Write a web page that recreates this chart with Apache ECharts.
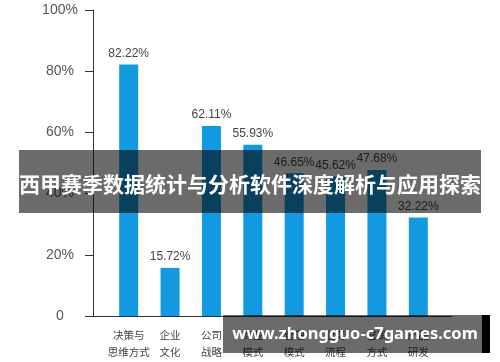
<!DOCTYPE html>
<html><head><meta charset="utf-8">
<script src="https://cdn.jsdelivr.net/npm/echarts@6/dist/echarts.min.js"></script>
<style>html,body{margin:0;padding:0;background:#fff}#c{width:500px;height:362px}</style>
</head><body><div id="c"></div>
<script>
var categories = ['决策与\n思维方式', '企业\n文化', '公司\n战略', '商业\n模式', '管理\n模式', '业务\n流程', '营销\n方式', '产品\n研发'];
var values = [82.22, 15.72, 62.11, 55.93, 46.65, 45.62, 47.68, 32.22];
var yTicks = [0, 20, 40, 60, 80, 100];
var bannerText = '西甲赛季数据统计与分析软件深度解析与应用探索';
var watermarkText = 'www.zhongguo-c7games.com';

var chart = echarts.init(document.getElementById('c'));
var font = 'Liberation Sans, Arial, sans-serif';
var cjk = '"Noto Sans CJK SC", sans-serif';
chart.setOption({
  animation: false,
  grid: [
    {left: 108, right: 61, top: 10, bottom: 46},
    {left: 93, right: 48, top: 10, bottom: 46}
  ],
  xAxis: [
    {type: 'category', gridIndex: 0, data: categories,
     axisLine: {show: false}, axisTick: {show: false},
     axisLabel: {interval: 0, fontFamily: cjk, fontSize: 10.5, color: '#444', lineHeight: 17, margin: 11}},
    {type: 'value', gridIndex: 1, min: 0, max: 1,
     axisLine: {show: true, lineStyle: {color: '#333', width: 1}},
     axisTick: {show: false}, axisLabel: {show: false}, splitLine: {show: false}}
  ],
  yAxis: [
    {type: 'value', gridIndex: 0, min: 0, max: 100, show: false},
    {type: 'value', gridIndex: 1, min: 0, max: 100, interval: 20,
     axisLine: {show: true, lineStyle: {color: '#333', width: 1}},
     axisTick: {show: true, length: 8, lineStyle: {color: '#333'}},
     splitLine: {show: false},
     axisLabel: {fontFamily: font, fontSize: 14, color: '#555', margin: 33, align: 'center',
       formatter: function (v) { return yTicks.indexOf(v) >= 0 ? (v === 0 ? '0' : v + '%') : ''; }}}
  ],
  series: [{
    type: 'bar', xAxisIndex: 0, yAxisIndex: 0, data: values, barWidth: 19,
    itemStyle: {color: '#1399e0'},
    label: {show: true, position: 'top', distance: 5, fontFamily: font, fontSize: 12, color: '#444',
      formatter: function (p) { return p.value.toFixed(2) + '%'; }}
  }],
  graphic: [
    {type: 'rect', left: 19, top: 150, shape: {width: 462, height: 63}, style: {fill: 'rgba(0,0,0,0.58)'}, z: 100},
    {type: 'text', x: 250, y: 184, style: {text: bannerText, fill: '#fff', align: 'center', verticalAlign: 'middle', font: 'bold 21px "Noto Sans CJK SC", sans-serif'}, z: 101},
    {type: 'rect', left: 223, top: 315, shape: {width: 259, height: 38}, style: {fill: 'rgba(0,0,0,0.58)'}, z: 100},
    {type: 'rect', left: 482, top: 315, shape: {width: 8, height: 38}, style: {fill: '#000'}, z: 100},
    {type: 'text', x: 355, y: 334, style: {text: watermarkText, fill: '#fff', align: 'center', verticalAlign: 'middle', font: 'bold 16.5px "Noto Sans", sans-serif'}, z: 101}
  ]
});
</script></body></html>
